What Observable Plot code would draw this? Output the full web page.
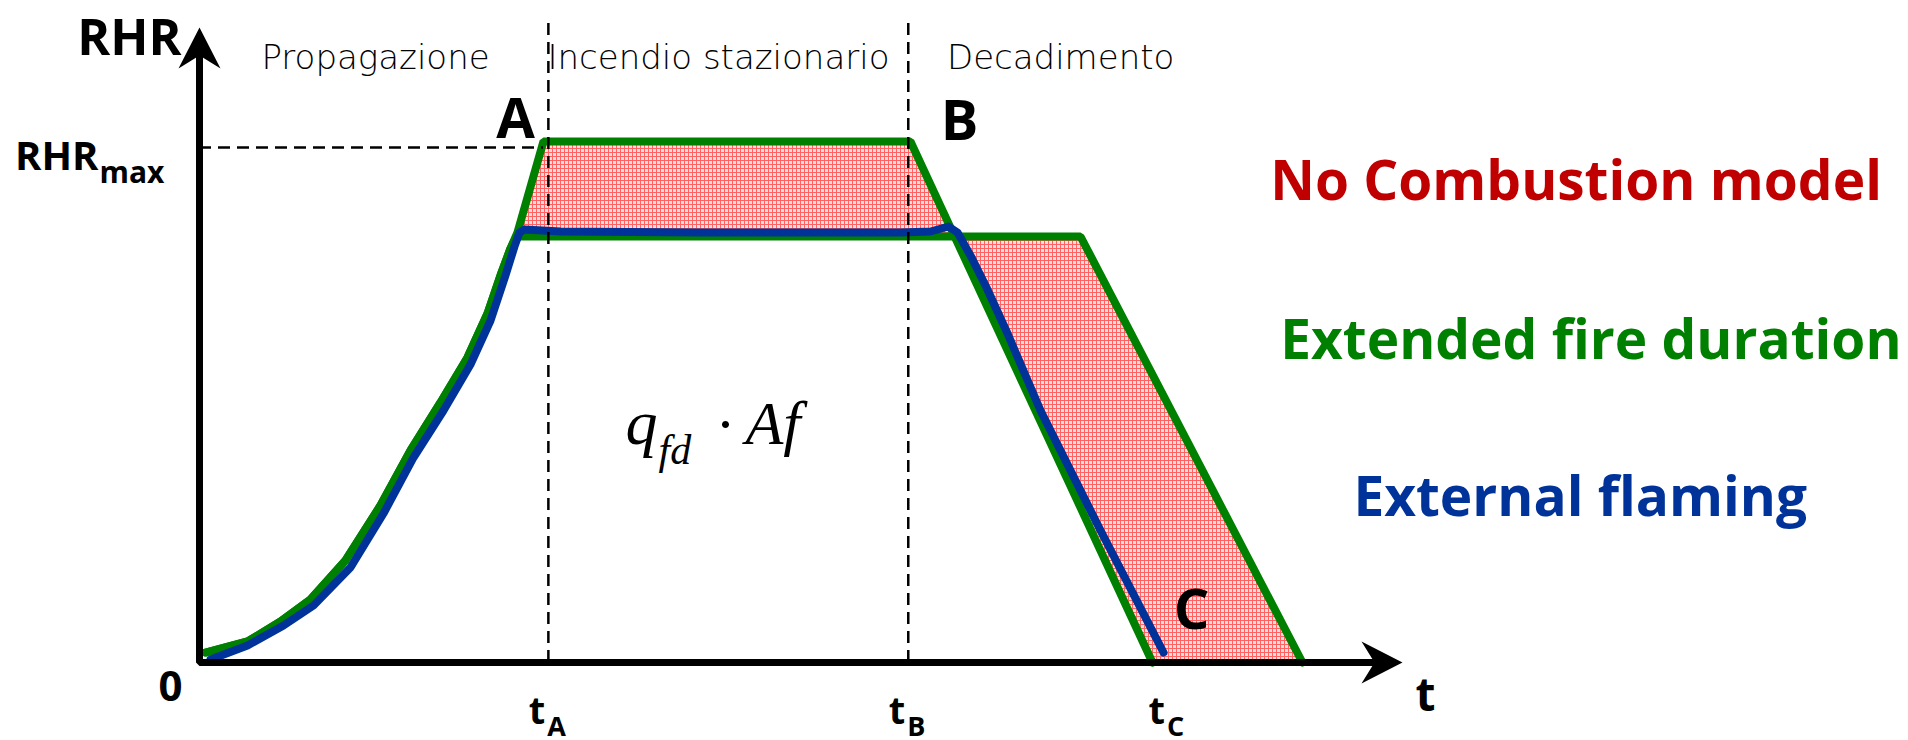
<!DOCTYPE html>
<html>
<head>
<meta charset="utf-8">
<script src="https://cdn.jsdelivr.net/npm/d3@7"></script>
<script src="https://cdn.jsdelivr.net/npm/@observablehq/plot@0.6"></script>
<style>
  html, body { margin: 0; padding: 0; background: #fff; overflow: hidden; }
</style>
</head>
<body>
<div id="chart"></div>
<script>
// ---- data (time in arbitrary units, RHR in % of RHRmax) ----
const tA = 34.8, tB = 70.7, tC = 95.06;
const RHRmax = 100;

// shared growth phase (green curves)
const growthT   = [0.60, 4.79, 8.08, 11.07, 14.56, 18.05, 21.05, 24.04, 26.73, 28.73, 30.02, 31.02];
const growthRHR = [1.94, 4.08, 7.96, 12.23, 19.81, 30.49, 41.17, 50.49, 59.22, 67.77, 75.15, 80.39];

// "No Combustion model": rise to RHRmax, steady, linear decay to tC
const noCombT   = [31.72, 34.31, 70.92, 95.06];
const noCombRHR = [83.5, 101.17, 101.17, 0];

// "Extended fire duration": lower plateau, longer, later decay
const extT   = [31.62, 87.88, 110.02];
const extRHR = [82.72, 82.72, 0];

// "External flaming"
const flamT   = [1.10, 4.79, 8.38, 11.37, 15.06, 18.35, 21.35, 24.34, 27.03, 29.03, 30.52, 31.42, 31.92, 32.42,
                 36.01, 49.98, 69.93, 72.92, 74.71, 75.61, 77.01, 78.50, 80.60, 83.89, 89.88, 96.16];
const flamRHR = [0.58, 3.30, 7.18, 11.07, 18.45, 28.93, 39.81, 48.93, 57.86, 66.41, 75.15, 80.78, 83.50, 84.08,
                 83.69, 83.50, 83.50, 83.69, 84.66, 83.50, 78.64, 72.82, 63.88, 48.93, 25.63, 1.94];

// labels
const phaseLabels = ["Propagazione", "Incendio stazionario", "Decadimento"];
const phaseX = [17.56, 51.77, 85.9];
const phaseY = 115.3;

const legendLabels = ["No Combustion model", "Extended fire duration", "External flaming"];
const legendColors = ["#c00000", "#008000", "#003399"];
const legendX = [106.8, 107.8, 115.1];
const legendY = [89.9, 59.0, 28.5];

const tickSubs = ["A", "B", "C"];
const tickLabelX = [tA, tB, 96.6];

const pointLabels = ["A", "B", "C"];
const pointX = [34.31, 70.92, 95.06];
const pointY = [101.17, 101.17, 0];
const pointDx = [-28, 49, 39];
const pointDy = [-3, -1, -34];

const formulaX = 42.49, formulaY = 42.52;

const xMax = 120, yMax = 123.3;

// ---- build series ----
const zip = (ts, vs) => ts.map((t, i) => ({t, v: vs[i]}));
const noComb = zip(growthT, growthRHR).concat(zip(noCombT, noCombRHR));
const ext = zip(growthT, growthRHR).concat(zip(extT, extRHR));
const flam = zip(flamT, flamRHR);

function interp(series, t) {
  if (t <= series[0].t) return series[0].v;
  for (let i = 1; i < series.length; i++) {
    if (t <= series[i].t) {
      const a = series[i - 1], b = series[i];
      return a.v + (b.v - a.v) * (t - a.t) / (b.t - a.t);
    }
  }
  return series[series.length - 1].v;
}
const fillTs = new Set();
for (let t = noCombT[0]; t <= extT[extT.length - 1]; t += 0.2) fillTs.add(+t.toFixed(3));
noCombT.concat(extT).forEach(t => { if (t >= noCombT[0]) fillTs.add(t); });
const fillData = [...fillTs].sort((a, b) => a - b).map(t => ({t, a: interp(noComb, t), b: interp(ext, t)}));

const axisPts = [{x: 0, y: 118.5}, {x: 0, y: 0}, {x: 117.6, y: 0}];
const arrowSymbol = {
  draw(ctx) {
    ctx.moveTo(0, 0);
    ctx.lineTo(21, 41);
    ctx.lineTo(0, 28);
    ctx.lineTo(-21, 41);
    ctx.closePath();
  }
};

const bold = "'Open Sans', 'DejaVu Sans', sans-serif";
const light = "'DejaVu Sans', sans-serif";
const serif = "'Liberation Serif', 'DejaVu Serif', serif";

const chart = Plot.plot({
  width: 1908,
  height: 740,
  marginLeft: 199,
  marginRight: 506,
  marginTop: 27,
  marginBottom: 78,
  style: {overflow: "visible", background: "#fff"},
  x: {domain: [0, xMax], axis: null},
  y: {domain: [0, yMax], axis: null},
  color: {type: "identity"},
  marks: [
    Plot.areaY(fillData, {x: "t", y1: "a", y2: "b", fill: "url(#rhrHatch)"}),
    Plot.line(ext, {x: "t", y: "v", stroke: "#008000", strokeWidth: 8, strokeLinejoin: "miter"}),
    Plot.line(noComb, {x: "t", y: "v", stroke: "#008000", strokeWidth: 8, strokeLinejoin: "miter"}),
    Plot.line(flam, {x: "t", y: "v", stroke: "#003399", strokeWidth: 8, strokeLinejoin: "round", strokeLinecap: "round"}),
    Plot.ruleX([tA, tB], {x: d => d, y1: 0, y2: 124.1, stroke: "black", strokeWidth: 2.5, strokeDasharray: "12,7"}),
    Plot.ruleY([RHRmax], {y: d => d, x1: 0, x2: 34.31, stroke: "black", strokeWidth: 2.5, strokeDasharray: "12,7"}),
    Plot.line(axisPts, {x: "x", y: "y", stroke: "black", strokeWidth: 7, strokeLinejoin: "miter"}),
    Plot.dot([{x: 0, y: yMax}], {x: "x", y: "y", symbol: arrowSymbol, r: 5, fill: "black", stroke: "none"}),
    Plot.dot([{x: xMax, y: 0}], {x: "x", y: "y", symbol: arrowSymbol, r: 5, fill: "black", stroke: "none", rotate: 90}),

    // axis titles and ticks
    Plot.text(["RHR"], {x: 0, y: yMax, text: d => d, textAnchor: "end", lineAnchor: "bottom", dx: -18, dy: 27,
      fontSize: 50, fontWeight: "bold", fontFamily: bold}),
    Plot.text(["RHR"], {x: 0, y: RHRmax, text: d => d, textAnchor: "end", lineAnchor: "bottom", dx: -101, dy: 23,
      fontSize: 40, fontWeight: "bold", fontFamily: bold}),
    Plot.text(["max"], {x: 0, y: RHRmax, text: d => d, textAnchor: "start", lineAnchor: "bottom", dx: -100, dy: 36,
      fontSize: 30, fontWeight: "bold", fontFamily: bold}),
    Plot.text(["0"], {x: 0, y: 0, text: d => d, textAnchor: "middle", lineAnchor: "bottom", dx: -29, dy: 38,
      fontSize: 42, fontWeight: "bold", fontFamily: bold}),
    Plot.text(["t"], {x: xMax, y: 0, text: d => d, textAnchor: "middle", lineAnchor: "bottom", dx: 23, dy: 48,
      fontSize: 46, fontWeight: "bold", fontFamily: bold}),
    Plot.text(tickLabelX, {x: d => d, y: 0, text: () => "t", textAnchor: "end", lineAnchor: "bottom", dx: -3, dy: 61,
      fontSize: 38, fontWeight: "bold", fontFamily: bold}),
    Plot.text(tickLabelX, {x: d => d, y: 0, text: (d, i) => tickSubs[i], textAnchor: "start", lineAnchor: "bottom", dx: -1, dy: 73,
      fontSize: 27, fontWeight: "bold", fontFamily: bold}),

    // point labels A, B, C
    Plot.text(pointLabels, {x: (d, i) => pointX[i], y: (d, i) => pointY[i], text: d => d, textAnchor: "middle", lineAnchor: "bottom",
      dx: 0, dy: 0, fontSize: 56, fontWeight: "bold", fontFamily: bold,
      render: (index, scales, values, dims, context, next) => {
        const g = next(index, scales, values, dims, context);
        d3.select(g).selectAll("text").each(function(_, j) {
          const i = index[j];
          d3.select(this).attr("transform", `translate(${values.x[i] + pointDx[i]},${values.y[i] + pointDy[i]})`);
        });
        return g;
      }}),

    // phase labels
    Plot.text(phaseLabels, {x: (d, i) => phaseX[i], y: phaseY, text: d => d, textAnchor: "middle", lineAnchor: "bottom",
      fontSize: 34, fontWeight: 200, fontFamily: light}),

    // legend
    Plot.text(legendLabels, {x: (d, i) => legendX[i], y: (d, i) => legendY[i], text: d => d, fill: (d, i) => legendColors[i],
      textAnchor: "start", lineAnchor: "bottom", fontSize: 55, fontWeight: "bold", fontFamily: bold}),

    // formula q_fd · Af
    Plot.text(["q"], {x: formulaX, y: formulaY, text: d => d, textAnchor: "start", lineAnchor: "bottom",
      fontSize: 64, fontStyle: "italic", fontFamily: serif}),
    Plot.text(["fd"], {x: formulaX, y: formulaY, text: d => d, textAnchor: "start", lineAnchor: "bottom", dx: 33, dy: 20,
      fontSize: 42, fontStyle: "italic", fontFamily: serif}),
    Plot.text(["\u00B7"], {x: formulaX, y: formulaY, text: d => d, textAnchor: "middle", lineAnchor: "bottom", dx: 100,
      fontSize: 60, fontFamily: serif}),
    Plot.text(["Af"], {x: formulaX, y: formulaY, text: d => d, textAnchor: "start", lineAnchor: "bottom", dx: 120,
      fontSize: 62, fontStyle: "italic", fontFamily: serif})
  ]
});

// hatch pattern used by the red fill
const svg = d3.select(chart);
const pat = svg.insert("defs", ":first-child").append("pattern")
  .attr("id", "rhrHatch").attr("patternUnits", "userSpaceOnUse").attr("width", 4).attr("height", 4);
pat.append("rect").attr("width", 4).attr("height", 4).attr("fill", "#ffdcdc");
pat.append("rect").attr("width", 4).attr("height", 1).attr("fill", "#ff6262");
pat.append("rect").attr("width", 1).attr("height", 4).attr("fill", "#ff6262");

document.getElementById("chart").appendChild(chart);
</script>
</body>
</html>
